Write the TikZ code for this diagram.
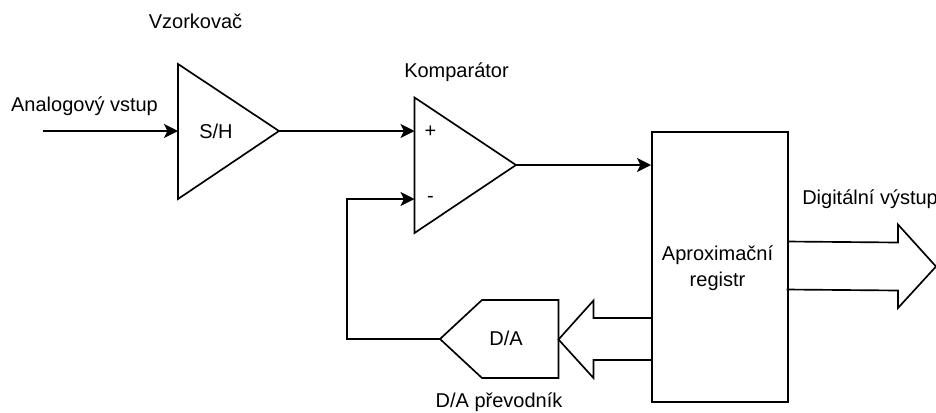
\documentclass[tikz,border=0pt]{standalone}
\usepackage{fontspec}
\setmainfont{Liberation Sans}
\usetikzlibrary{arrows.meta}
\tikzset{
  shapeline/.style={draw=black,line width=1.25pt,line join=miter,fill=white},
  outline/.style={draw=black,line width=1.25pt,line join=miter},
  wire/.style={draw=black,line width=1.25pt,line join=miter,-{Stealth[length=10.5pt,width=10.5pt,inset=2.6pt]}},
  label/.style={font=\fontsize{15pt}{19.5pt}\selectfont,text=black,inner sep=0pt,align=center},
  blabel/.style={label,anchor=base},
  regbox/.style={shapeline,rectangle,minimum width=102pt,minimum height=202.5pt,inner sep=0pt,anchor=north west}
}
\begin{document}
\begin{tikzpicture}[x=0.75pt,y=-0.75pt]
\useasboundingbox (0,0) rectangle (936,412);
\fill[white] (0,0) rectangle (936,412);
% ports
\coordinate (in) at (43,131);
\coordinate (shIn) at (178,131);
\coordinate (shOut) at (279,131);
\coordinate (cmpPlus) at (414.5,131);
\coordinate (cmpMinus) at (414.5,199);
\coordinate (cmpOut) at (516,165);
\coordinate (regIn) at (651,165);
\coordinate (daOut) at (440,339);
\coordinate (fbA) at (347,339);
\coordinate (fbB) at (347,199);
% S/H
\draw[shapeline] (178,64) -- (279,131) -- (178,199) -- cycle;
\node[blabel] (sh) at (216,138) {S/H};
% comparator
\draw[shapeline] (414.5,97.5) -- (516,165) -- (414.5,233) -- cycle;
\node[label] (plus) at (430.5,131.5) {+};
\node[label] (minus) at (430.5,199.5) {-};
% big arrows
\draw[outline] (787,241.5) -- (898,242.5) -- (898,224.5) -- (936,266.5) -- (898,308) -- (898,290.5) -- (786.5,289.5);
\draw[outline] (651,318) -- (593.5,318) -- (593.5,300.5) -- (558.5,339.5) -- (593.5,378) -- (593.5,360) -- (651,360);
% register
\node[regbox,fill=none] (reg) at (651,131) {};
\node[label] (regText) at (717.5,268.5) {Aproximační\\registr};
% D/A
\draw[outline] (daOut) -- (482,300) -- (558.5,300) -- (558.5,378) -- (482,378) -- cycle;
\node[blabel] (da) at (506,345) {D/A};
% connectors
\draw[wire] (in) -- (shIn);
\draw[wire] (shOut) -- (cmpPlus);
\draw[wire] (cmpOut) -- (regIn);
\draw[wire] (daOut) -- (fbA) -- (fbB) -- (cmpMinus);
% labels
\node[blabel] (vz) at (195.5,28) {Vzorkovač};
\node[blabel] (an) at (84.5,111.7) {Analogový vstup};
\node[blabel] (ko) at (456.5,77) {Komparátor};
\node[label,anchor=base west] (di) at (802,204.5) {Digitální výstup};
\node[blabel] (pr) at (499,407.7) {D/A převodník};
\end{tikzpicture}
\end{document}
